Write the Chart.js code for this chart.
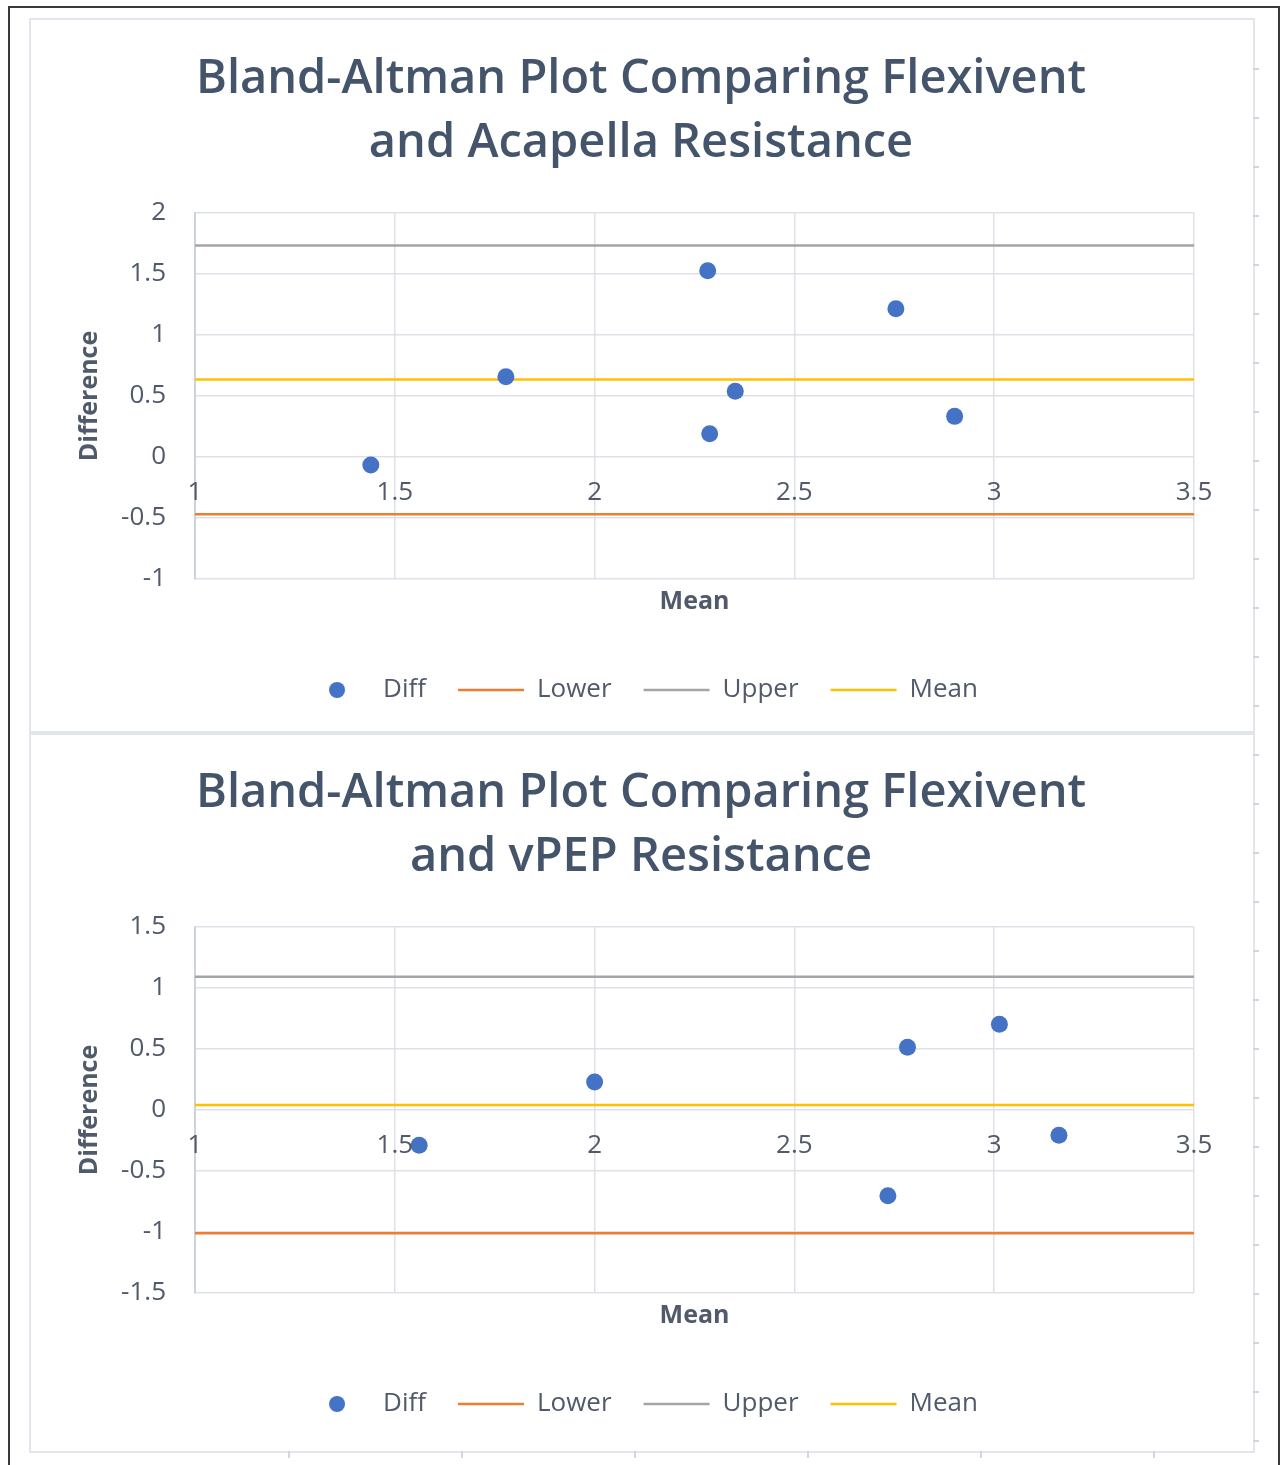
<!DOCTYPE html>
<html>
<head>
<meta charset="utf-8">
<script src="https://cdn.jsdelivr.net/npm/chart.js@4.4.1/dist/chart.umd.min.js"></script>
<style>
  html, body { margin: 0; padding: 0; background: #ffffff; }
  body { position: relative; width: 1280px; height: 1465px; overflow: hidden; }
  #frame { position: absolute; left: 8px; top: 6px; width: 1268px; height: 1470px;
           border-left: 2px solid #3a3a3a; border-top: 2px solid #3a3a3a; border-right: 2px solid #3a3a3a; }
  .panel { position: absolute; left: 29px; width: 1222px; border: 2px solid #e2e6ec; }
  #p1 { top: 18px; height: 713px; }
  #p2 { top: 731px; height: 718px; }
  #rticks { position: absolute; left: 1253px; top: 21px; width: 6px; height: 1425px;
            background: repeating-linear-gradient(to bottom, transparent 0px, transparent 47px, #d3d7dd 47px, #d3d7dd 49px); }
  #bticks { position: absolute; left: 288px; top: 1451px; width: 960px; height: 7px;
            background: repeating-linear-gradient(to right, #d3d7dd 0px, #d3d7dd 2px, transparent 2px, transparent 173px); }
  canvas { position: absolute; left: 29px; }
  #c1 { top: 19px; }
  #c2 { top: 733px; }
</style>
</head>
<body>
<div id="frame"></div>
<div class="panel" id="p1"></div>
<div class="panel" id="p2"></div>
<div id="rticks"></div>
<div id="bticks"></div>
<canvas id="c1" width="1224" height="694"></canvas>
<canvas id="c2" width="1224" height="694"></canvas>
<script>
// ---- Data ----
const seriesNames = ['Diff', 'Lower', 'Upper', 'Mean'];
const xRange = [1, 3.5];

const acapellaTitle = ['Bland-Altman Plot Comparing Flexivent', 'and Acapella Resistance'];
const acapellaMeans = [1.44, 1.778, 2.283, 2.288, 2.352, 2.754, 2.901];
const acapellaDiffs = [-0.066, 0.658, 1.527, 0.191, 0.539, 1.216, 0.333];
const acapellaLower = -0.47;
const acapellaUpper = 1.733;
const acapellaMeanDiff = 0.635;
const acapellaYRange = [-1, 2];

const vpepTitle = ['Bland-Altman Plot Comparing Flexivent', 'and vPEP Resistance'];
const vpepMeans = [1.561, 2.0, 2.734, 2.783, 3.013, 3.162];
const vpepDiffs = [-0.289, 0.229, -0.702, 0.515, 0.702, -0.207];
const vpepLower = -1.011;
const vpepUpper = 1.093;
const vpepMeanDiff = 0.041;
const vpepYRange = [-1.5, 1.5];

// ---- Styles ----
const FONT = "'Open Sans', 'Noto Sans', sans-serif";
const titleColor = '#44546a';
const textColor = '#505a6a';
const gridColor = '#dde1e8';
const colors = { diff: '#4472c4', lower: '#ed7d31', upper: '#a5a5a5', mean: '#ffc000' };

const dotImg = document.createElement('canvas');
dotImg.width = 18; dotImg.height = 18;
(function () {
  const c = dotImg.getContext('2d');
  c.fillStyle = colors.diff;
  c.beginPath(); c.arc(9, 9, 8, 0, Math.PI * 2); c.fill();
})();

const fmt = (v) => String(Number(Number(v).toFixed(2)));

function hline(val) {
  return [{ x: xRange[0], y: val }, { x: xRange[1], y: val }];
}

function makeChart(id, title, means, diffs, lower, upper, meanDiff, yRange) {
  const pts = means.map((m, i) => ({ x: m, y: diffs[i] }));
  const lineDs = (label, val, color) => ({
    type: 'line', label, data: hline(val), borderColor: color, backgroundColor: color,
    borderWidth: 2.5, pointRadius: 0, showLine: true, xAxisID: 'x', yAxisID: 'y'
  });
  return new Chart(document.getElementById(id), {
    type: 'scatter',
    data: {
      datasets: [
        { label: seriesNames[0], data: pts, backgroundColor: colors.diff, borderColor: colors.diff,
          pointRadius: 8.5, pointBorderWidth: 0, xAxisID: 'x', yAxisID: 'y' },
        lineDs(seriesNames[1], lower, colors.lower),
        lineDs(seriesNames[2], upper, colors.upper),
        lineDs(seriesNames[3], meanDiff, colors.mean)
      ]
    },
    options: {
      responsive: false, animation: false, devicePixelRatio: 1,
      layout: { padding: { left: 0, right: 0, top: 0, bottom: 0 } },
      plugins: {
        tooltip: { enabled: false },
        title: {
          display: true, text: title, color: titleColor,
          font: { family: FONT, size: 47, weight: '600', lineHeight: '64px' },
          padding: { top: 29, bottom: 37 }
        },
        legend: {
          position: 'bottom',
          labels: {
            usePointStyle: true, pointStyleWidth: 66, boxHeight: 16, padding: 32,
            color: textColor, font: { family: FONT, size: 26 },
            generateLabels: (chart) => chart.data.datasets.map((ds, i) => ({
              text: ds.label, fillStyle: ds.backgroundColor, strokeStyle: ds.borderColor,
              lineWidth: 2.5, pointStyle: i === 0 ? dotImg : 'line', hidden: false,
              datasetIndex: i, fontColor: textColor
            }))
          }
        }
      },
      scales: {
        x: {
          type: 'linear', axis: 'x', position: { y: 0 }, min: xRange[0], max: xRange[1],
          ticks: { stepSize: 0.5, padding: 20, color: textColor, font: { family: FONT, size: 26 },
                   maxRotation: 0, callback: fmt, z: 1 },
          grid: { color: gridColor, lineWidth: 1.5, drawTicks: false },
          border: { display: false }
        },
        x2: {
          type: 'linear', axis: 'x', position: 'bottom', min: 0, max: 1,
          ticks: { display: false },
          grid: { display: false, drawTicks: false },
          border: { display: false },
          title: { display: true, text: 'Mean', color: textColor,
                   font: { family: FONT, size: 25, weight: 'bold' }, padding: { top: 0, bottom: 28 } },
          afterFit: (s) => { s.height = 66; }
        },
        y: {
          type: 'linear', position: 'left', min: yRange[0], max: yRange[1],
          ticks: { stepSize: 0.5, padding: 29, color: textColor, font: { family: FONT, size: 26 }, callback: fmt },
          grid: { color: gridColor, lineWidth: 1.5, drawTicks: false },
          border: { display: true, color: '#cdd3dd', width: 2, z: -1 },
          title: { display: true, text: 'Difference', color: textColor,
                   font: { family: FONT, size: 25, weight: 'bold' }, padding: { top: 46, bottom: 0 } },
          afterFit: (s) => { s.width = 166; }
        },
        y2: {
          type: 'linear', axis: 'y', position: 'right', min: 0, max: 1,
          ticks: { display: false },
          grid: { display: false, drawTicks: false },
          border: { display: false },
          afterFit: (s) => { s.width = 59; }
        }
      }
    }
  });
}

makeChart('c1', acapellaTitle, acapellaMeans, acapellaDiffs, acapellaLower, acapellaUpper, acapellaMeanDiff, acapellaYRange);
makeChart('c2', vpepTitle, vpepMeans, vpepDiffs, vpepLower, vpepUpper, vpepMeanDiff, vpepYRange);
</script>
</body>
</html>
